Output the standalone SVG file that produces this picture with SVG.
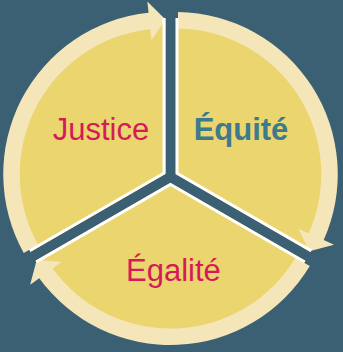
<svg xmlns="http://www.w3.org/2000/svg" width="343" height="352" viewBox="0 0 343 352">
  <style>
    .wedge { fill: #ebd56e; }
    .edge { fill: none; stroke: #ffffff; stroke-width: 6; stroke-linejoin: miter; }
    .ring { fill: #f4e6b9; }
    .label { font-family: "Liberation Sans", Arial, sans-serif; font-size: 31px; text-anchor: middle; }
    .red { fill: #d51a5a; }
    .teal { fill: #3e7a8e; font-weight: bold; }
  </style>
  <defs>
    <!-- one segment: wedge from -90deg to 30deg, local origin at its apex -->
    <path id="wedgeShape" d="M0,0 L0,-156 A156,156 0 0 1 135.10,78 Z"/>
    <clipPath id="wedgeClip">
      <use href="#wedgeShape"/>
    </clipPath>
    <!-- curved band with arrowhead ending on the 30deg edge -->
    <path id="ringArrow" d="M2.5,-162.23 A162.25,162.25 0 0 1 148.22,65.99 L158.50,70.57 L133.80,77.25 L122.87,54.71 L133.15,59.28 A145.75,145.75 0 0 0 2.5,-145.73 Z"/>
  </defs>

  <rect width="343" height="352" fill="#3b6074"/>

  <g id="justice" transform="translate(165.5,174.115) rotate(-120)">
    <use href="#wedgeShape" class="wedge"/>
    <use href="#ringArrow" class="ring"/>
    <path class="edge" d="M0,-156 L0,0 L135.10,78" clip-path="url(#wedgeClip)"/>
  </g>

  <g id="equite" transform="translate(175.5,174.115)">
    <use href="#wedgeShape" class="wedge"/>
    <use href="#ringArrow" class="ring"/>
    <path class="edge" d="M0,-156 L0,0 L135.10,78" clip-path="url(#wedgeClip)"/>
  </g>

  <g id="egalite" transform="translate(170.5,182.77) rotate(120)">
    <use href="#wedgeShape" class="wedge"/>
    <use href="#ringArrow" class="ring"/>
    <path class="edge" d="M0,-156 L0,0 L135.10,78" clip-path="url(#wedgeClip)"/>
  </g>

  <g id="labels">
    <text class="label red" x="101" y="140">Justice</text>
    <text class="label teal" x="241" y="140">Équité</text>
    <text class="label red" x="173.4" y="281">Égalité</text>
  </g>
</svg>
